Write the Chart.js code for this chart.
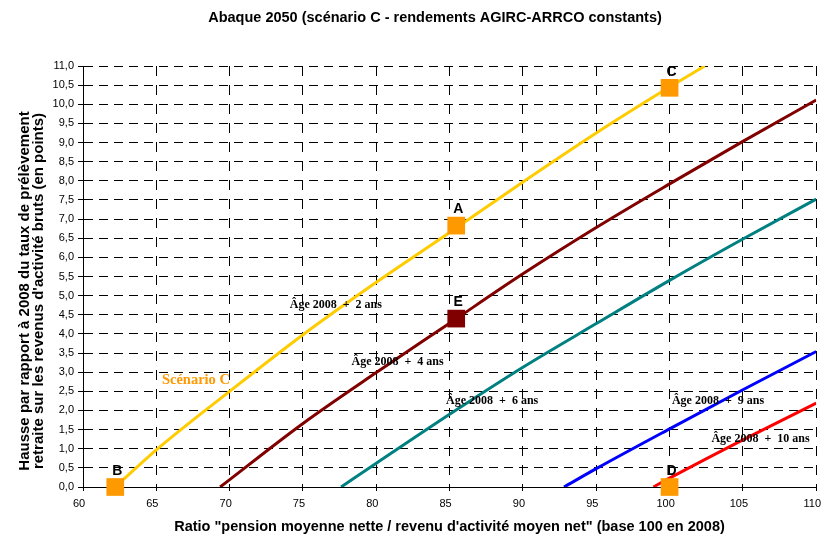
<!DOCTYPE html>
<html>
<head>
<meta charset="utf-8">
<script src="https://cdn.jsdelivr.net/npm/chart.js@4"></script>
<style>
  html,body{margin:0;padding:0;background:#fff;}
  #c{display:block;}
</style>
</head>
<body>
<canvas id="c" width="831" height="537"></canvas>
<script>
/* ---------------- textes ---------------- */
const chartTitle = 'Abaque 2050 (scénario C - rendements AGIRC-ARRCO constants)';
const yTitle = ['Hausse par rapport à 2008 du taux de prélèvement',
                "retraite sur les revenus d'activité bruts (en points)"];
const xTitle = 'Ratio "pension moyenne nette / revenu d\'activité moyen net" (base 100 en 2008)';

/* ---------------- axes ---------------- */
const xMin = 60, xMax = 110, xStep = 5;
const yMin = 0,  yMax = 11,  yStep = 0.5;

/* ---------------- courbes ---------------- */
const scenarioX = [62.2, 65, 70, 75, 80, 85, 90, 95, 100, 102.4];
const scenarioY = [0, 0.97, 2.5, 3.98, 5.35, 6.65, 7.97, 9.25, 10.45, 11.0];

const age4X = [69.35, 75, 80, 85, 90, 95, 100, 105, 110];
const age4Y = [0, 1.66, 2.99, 4.28, 5.57, 6.78, 7.92, 9.03, 10.11];

const age6X = [77.6, 80, 85, 90, 95, 100, 105, 110];
const age6Y = [0, 0.62, 1.9, 3.13, 4.27, 5.4, 6.48, 7.52];

const age9X = [92.8, 95, 100, 105, 110];
const age9Y = [0, 0.48, 1.52, 2.54, 3.54];

const age10X = [98.9, 100, 105, 110];
const age10Y = [0, 0.23, 1.23, 2.19];

/* ---------------- points repères ---------------- */
const markNames = ['A', 'B', 'C', 'D', 'E'];
const markX     = [85.45, 62.2, 100, 100, 85.45];
const markY     = [6.83, 0, 10.43, 0, 4.4];

/* ---------------- étiquettes des courbes ---------------- */
const curveLabels = ['Âge 2008  +  2 ans', 'Âge 2008  +  4 ans', 'Âge 2008  +  6 ans',
                     'Âge 2008  +  9 ans', 'Âge 2008  +  10 ans'];
const curveLabelX = [77.24, 81.45, 87.9, 103.3, 106.2];
const curveLabelY = [4.76, 3.28, 2.26, 2.26, 1.25];
const scenarioLabel = 'Scénario C';
const scenarioLabelX = 67.7, scenarioLabelY = 2.78;

/* ---------------- helpers ---------------- */
const pts  = (xs, ys) => xs.map((x, i) => ({x, y: ys[i]}));
const SANS = '"Liberation Sans", Arial, sans-serif';
const SERIF = '"Liberation Serif", "Times New Roman", serif';

function curve(xs, ys, color){
  return {
    data: pts(xs, ys), showLine: true, borderColor: color, borderWidth: 3,
    pointRadius: 0, cubicInterpolationMode: 'monotone', order: 1
  };
}

const markColors = markNames.map(n => n === 'E' ? '#800000' : '#FF9900');

/* ---------------- textes dessinés ---------------- */
const textPlugin = {
  id: 'texts',
  afterDatasetsDraw(chart){
    const {ctx, scales: {x, y}} = chart;
    ctx.save();
    ctx.textAlign = 'center';
    ctx.textBaseline = 'middle';
    ctx.fillStyle = '#000';

    ctx.font = 'bold 14.5px ' + SANS;
    ctx.fillText(chartTitle, 435, 17.5);
    ctx.fillText(xTitle, 449.5, 526.5);

    ctx.save();
    ctx.font = 'bold 15px ' + SANS;
    ctx.translate(25, 291);
    ctx.rotate(-Math.PI / 2);
    ctx.fillText(yTitle[0], 0, 0);
    ctx.fillText(yTitle[1], 0, 13.5);
    ctx.restore();

    // lettres A..E au-dessus des carrés
    ctx.font = 'bold 14px ' + SANS;
    const meta = chart.getDatasetMeta(0);
    meta.data.forEach((p, i) => ctx.fillText(markNames[i], p.x + 2, p.y - 16));

    ctx.font = 'bold 12px ' + SERIF;
    curveLabels.forEach((t, i) =>
      ctx.fillText(t, x.getPixelForValue(curveLabelX[i]), y.getPixelForValue(curveLabelY[i])));

    ctx.font = 'bold 14.5px ' + SERIF;
    ctx.fillStyle = '#FF9900';
    ctx.fillText(scenarioLabel, x.getPixelForValue(scenarioLabelX), y.getPixelForValue(scenarioLabelY));
    ctx.restore();
  }
};

/* ---------------- chart ---------------- */
new Chart(document.getElementById('c'), {
  type: 'scatter',
  data: {
    datasets: [
      {
        data: pts(markX, markY), showLine: false, pointStyle: 'rect',
        pointRadius: 12.5, pointBorderWidth: 0,
        pointBackgroundColor: markColors, clip: false, order: 0
      },
      curve(scenarioX, scenarioY, '#FFCC00'),
      curve(age4X, age4Y, '#800000'),
      curve(age6X, age6Y, '#008080'),
      curve(age9X, age9Y, '#0000FF'),
      curve(age10X, age10Y, '#FF0000')
    ]
  },
  options: {
    responsive: false,
    animation: false,
    events: [],
    layout: {padding: {top: 66, right: 8, bottom: 0, left: 0}},
    plugins: {legend: {display: false}, tooltip: {enabled: false}},
    scales: {
      x: {
        type: 'linear', min: xMin, max: xMax,
        afterFit: s => { s.height = 50; },
        ticks: {stepSize: xStep, color: '#000', padding: 6, labelOffset: -4,
                font: {family: SANS, size: 11}},
        grid: {color: '#000', lineWidth: 1, tickLength: 4, tickColor: '#000'},
        border: {display: true, color: '#000', width: 1, dash: [10, 9]}
      },
      y: {
        type: 'linear', min: yMin, max: yMax,
        afterFit: s => { s.width = 83; },
        ticks: {stepSize: yStep, color: '#000', padding: 4,
                font: {family: SANS, size: 11},
                callback: v => v.toFixed(1).replace('.', ',')},
        grid: {color: '#000', lineWidth: 1, tickLength: 5, tickColor: '#000'},
        border: {display: true, color: '#000', width: 1, dash: [9, 6]}
      }
    }
  },
  plugins: [textPlugin]
});
</script>
</body>
</html>
